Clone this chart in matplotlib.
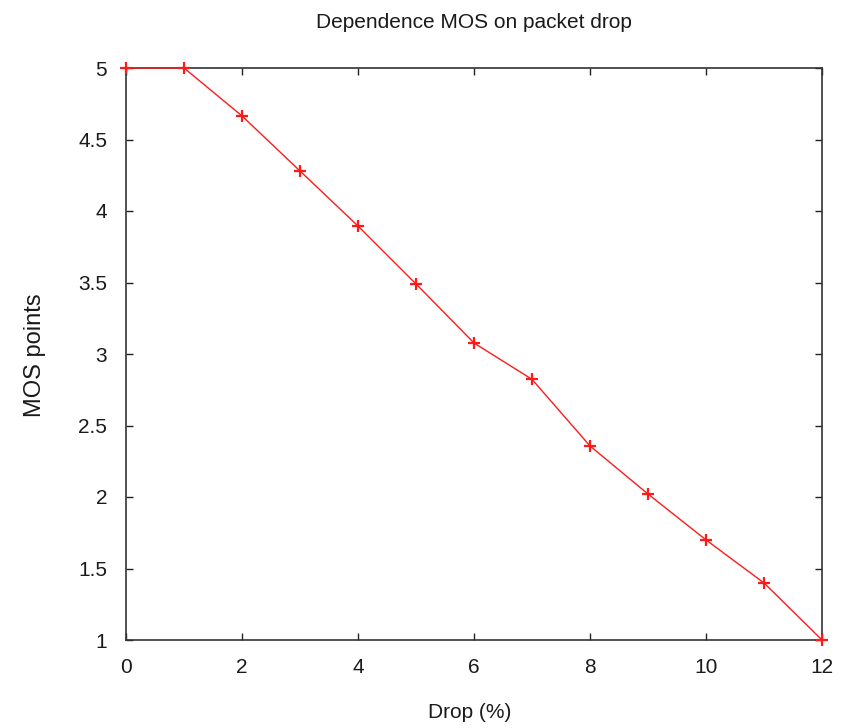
import matplotlib
matplotlib.use("Agg")
import matplotlib.pyplot as plt

drop = [0, 1, 2, 3, 4, 5, 6, 7, 8, 9, 10, 11, 12]
mos = [5.0, 5.0, 4.665, 4.28, 3.895, 3.49, 3.077, 2.823, 2.357, 2.021, 1.70, 1.399, 1.0]
xticks = [0, 2, 4, 6, 8, 10, 12]
yticks = [1, 1.5, 2, 2.5, 3, 3.5, 4, 4.5, 5]
yticklabels = ["1", "1.5", "2", "2.5", "3", "3.5", "4", "4.5", "5"]

plt.rcParams['font.family'] = ['Liberation Sans', 'DejaVu Sans']
fig = plt.figure(figsize=(8.48, 7.28), dpi=100)
L, R, T, B = 126, 822, 68, 640
ax = fig.add_axes([L/848, 1-B/728, (R-L)/848, (B-T)/728])
ax.plot(drop, mos, color='#ff1a1a', lw=1.0, marker='+', ms=9, mew=1.6, clip_on=False, zorder=3)
ax.set_xlim(0, 12)
ax.set_ylim(1, 5)
ax.set_xticks(xticks)
ax.set_yticks(yticks)
ax.set_yticklabels(yticklabels)
ax.tick_params(direction='in', top=True, right=True, length=5, width=1, labelsize=15,
               colors='#222222', labelcolor='#1a1a1a')
ax.tick_params(axis='y', pad=13.5)
ax.tick_params(axis='x', pad=13)
for s in ax.spines.values():
    s.set_linewidth(1.2)
    s.set_color('#333333')
ax.set_title('Dependence MOS on packet drop', fontsize=15, color='#1a1a1a',
             y=1 + (T-22)/(B-T), va='center', pad=0)
ax.set_xlabel('Drop (%)', fontsize=15, color='#1a1a1a')
ax.set_ylabel('MOS points', fontsize=17, color='#1a1a1a')
ax.xaxis.set_label_coords(0.5 - 4/(R-L), -(713-B)/(B-T))
ax.xaxis.label.set_va('center')
ax.yaxis.set_label_coords(-(L-35)/(R-L), 0.5 - (355-354)/(B-T))
ax.yaxis.label.set_va('center')
fig.savefig('out.png', dpi=100)
